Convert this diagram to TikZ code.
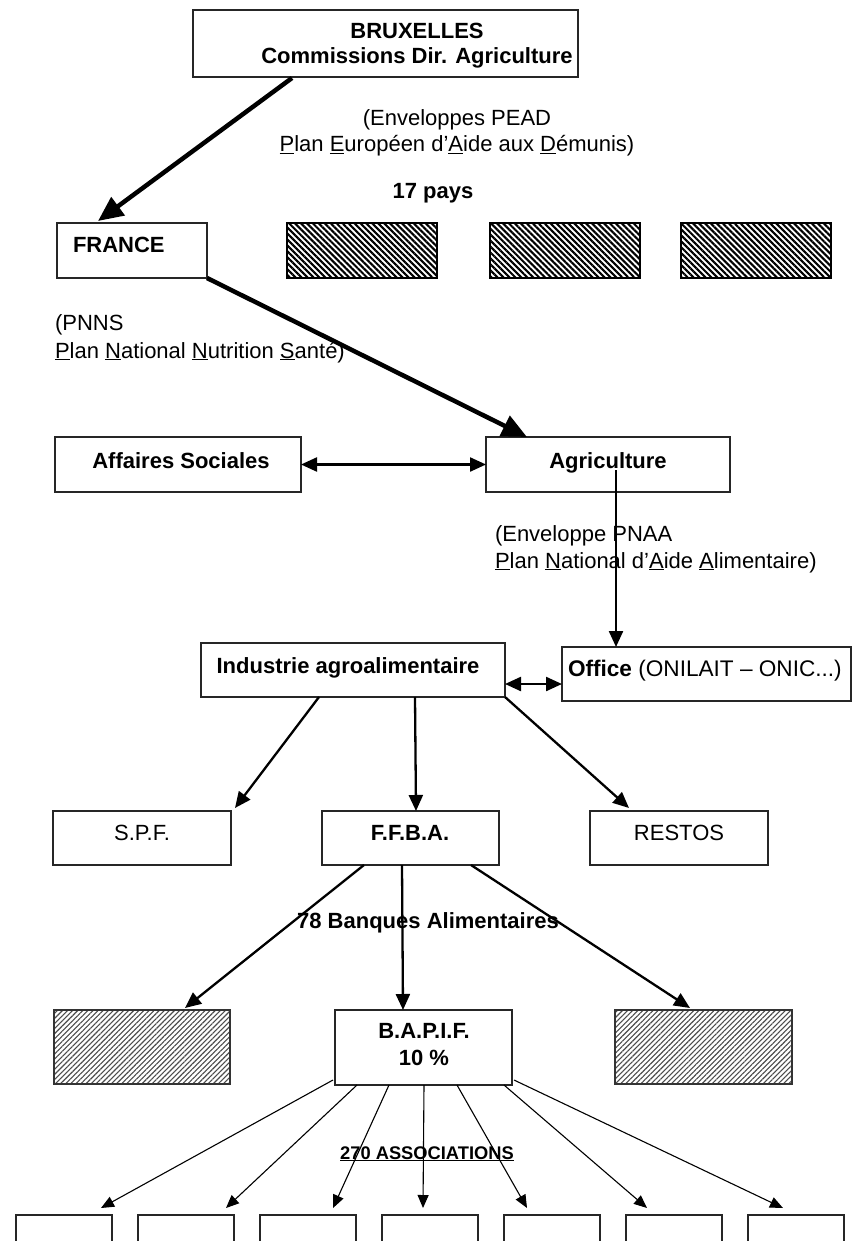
\documentclass[tikz,border=0pt]{standalone}
\usepackage{fontspec}
\setmainfont{Liberation Sans}
\usetikzlibrary{arrows.meta,patterns.meta,calc}
\newcommand\ulx[1]{\underline{#1}}
\begin{document}
\begin{tikzpicture}[x=1pt,y=-1pt,
  every node/.style={inner sep=0pt, outer sep=0pt},
  box/.style={draw=black!85, line width=1.3pt, rectangle, anchor=north west},
  hatchtop/.style={box, draw=black, line width=1.8pt, pattern={Lines[angle=-45,distance=4.2pt,line width=2.1pt]}},
  hatchbot/.style={box, draw=black!80, line width=1.3pt, pattern={Lines[angle=45,distance=3.6pt,line width=1.1pt]}, pattern color=black!70},
  txt/.style={font=\fontsize{22}{26}\selectfont, anchor=base},
  bigarrow/.style={line width=4.5pt, -{Triangle[length=25pt,width=22pt]}},
  midarrow/.style={line width=2.3pt, -{Triangle[length=16pt,width=14pt]}},
  middouble/.style={line width=2.3pt, {Triangle[length=16pt,width=14pt]}-{Triangle[length=16pt,width=14pt]}},
  thinarrow/.style={line width=1.1pt, -{Triangle[length=13pt,width=11pt]}}
]
\useasboundingbox (0,0) rectangle (854,1241);
\fill[white] (0,0) rectangle (854,1241);
\clip (0,0) rectangle (854,1241);

% boxes
\node[box, minimum width=385pt, minimum height=67pt] (brux) at (193,10) {};
\node[box, minimum width=150pt, minimum height=55pt] (france) at (57,223) {};
\node[hatchtop, minimum width=150pt, minimum height=55pt] (hA) at (287,223) {};
\node[hatchtop, minimum width=150pt, minimum height=55pt] (hB) at (490,223) {};
\node[hatchtop, minimum width=150pt, minimum height=55pt] (hC) at (681,223) {};
\node[box, minimum width=246pt, minimum height=55pt] (aff) at (55,437) {};
\node[box, minimum width=244pt, minimum height=55pt] (agri) at (486,437) {};
\node[box, minimum width=304pt, minimum height=54pt] (ind) at (201,643) {};
\node[box, minimum width=289pt, minimum height=54pt] (off) at (562,647) {};
\node[box, minimum width=178pt, minimum height=54pt] (spf) at (53,811) {};
\node[box, minimum width=177pt, minimum height=54pt] (ffba) at (322,811) {};
\node[box, minimum width=178pt, minimum height=54pt] (restos) at (590,811) {};
\node[hatchbot, minimum width=176pt, minimum height=74pt] (hL) at (54,1010) {};
\node[box, minimum width=177pt, minimum height=75pt] (bapif) at (335,1010) {};
\node[hatchbot, minimum width=177pt, minimum height=74pt] (hR) at (615,1010) {};
\node[box, minimum width=96pt, minimum height=60pt] (b1) at (16,1215) {};
\node[box, minimum width=96pt, minimum height=60pt] (b2) at (138,1215) {};
\node[box, minimum width=96pt, minimum height=60pt] (b3) at (260,1215) {};
\node[box, minimum width=96pt, minimum height=60pt] (b4) at (382,1215) {};
\node[box, minimum width=96pt, minimum height=60pt] (b5) at (504,1215) {};
\node[box, minimum width=96pt, minimum height=60pt] (b6) at (626,1215) {};
\node[box, minimum width=96pt, minimum height=60pt] (b7) at (748,1215) {};

% texts
\node[txt] (tbrux1) at (417,39) {\bfseries BRUXELLES};
\node[txt] (tbrux2) at (417,64) {\bfseries Commissions Dir. Agriculture};
\node[txt] (tpead1) at (457,126) {(Enveloppes PEAD};
\node[txt] (tpead2) at (457,152) {\ulx{P}lan \ulx{E}uropéen d’\ulx{A}ide aux \ulx{D}émunis)};
\node[txt] (tpays) at (433,199) {\bfseries 17 pays};
\node[txt, anchor=base west] (tfr) at (73,253) {\bfseries FRANCE};
\node[txt, anchor=base west] (tpnns1) at (55,330) {(PNNS};
\node[txt, anchor=base west] (tpnns2) at (55,358) {\ulx{P}lan \ulx{N}ational \ulx{N}utrition \ulx{S}anté)};
\node[txt] (taff) at (181,468) {\bfseries Affaires Sociales};
\node[txt] (tagri) at (608,468) {\bfseries Agriculture};
\node[txt, anchor=base west] (tpnaa1) at (495,541) {(Enveloppe PNAA};
\node[txt, anchor=base west] (tpnaa2) at (495,568) {\ulx{P}lan \ulx{N}ational d’\ulx{A}ide \ulx{A}limentaire)};
\node[txt] (tind) at (348,673) {\bfseries Industrie agroalimentaire};
\node[txt, font=\fontsize{22.6}{26}\selectfont, anchor=base west] (toff) at (568,676) {\textbf{Office} (ONILAIT – ONIC...)};
\node[txt] (tspf) at (142,840) {S.P.F.};
\node[txt] (tffba) at (410,840) {\bfseries F.F.B.A.};
\node[txt] (trestos) at (679,840) {RESTOS};
\node[txt] (tbanq) at (428,928) {\bfseries 78 Banques Alimentaires};
\node[txt] (tbapif1) at (424,1038) {\bfseries B.A.P.I.F.};
\node[txt] (tbapif2) at (424,1065) {\bfseries 10 \%};
\node[txt, font=\fontsize{18.3}{22}\selectfont\bfseries] (tassoc) at (427,1159) {\underline{270 ASSOCIATIONS}};

% connectors
\draw[bigarrow] ($(brux.south west)+(99,1)$) -- ($(france.north west)+(41,-2)$);
\draw[bigarrow] (france.south east) -- ($(agri.north west)+(41,0)$);
\draw[middouble] (aff.east) -- (agri.west);
\draw[midarrow] ($(agri.north west)+(130,33)$) -- ($(off.north west)+(54,0)$);
\draw[middouble] ($(ind.north east)+(0,41)$) -- ($(off.north west)+(0,37)$);
\draw[midarrow] ($(ind.south west)+(118,0)$) -- ($(spf.north east)+(4,-3)$);
\draw[midarrow] ($(ind.south west)+(214,0)$) -- ($(ffba.north west)+(94,0)$);
\draw[midarrow] (ind.south east) -- ($(restos.north west)+(39,-3)$);
\draw[midarrow] ($(ffba.south west)+(42,0)$) -- ($(hL.north west)+(131,-2)$);
\draw[midarrow] ($(ffba.south west)+(80,0)$) -- ($(bapif.north west)+(68,0)$);
\draw[midarrow] ($(ffba.south west)+(149,0)$) -- ($(hR.north west)+(75,-2)$);
\draw[thinarrow] ($(bapif.south west)+(-2,-5)$) -- ($(b1.north west)+(85,-7)$);
\draw[thinarrow] ($(bapif.south west)+(22,0)$) -- ($(b2.north west)+(88,-7)$);
\draw[thinarrow] ($(bapif.south west)+(54,0)$) -- ($(b3.north west)+(73,-7)$);
\draw[thinarrow] ($(bapif.south west)+(89,0)$) -- ($(b4.north west)+(41,-7)$);
\draw[thinarrow] ($(bapif.south west)+(122,0)$) -- ($(b5.north west)+(23,-7)$);
\draw[thinarrow] ($(bapif.south west)+(169,0)$) -- ($(b6.north west)+(21,-7)$);
\draw[thinarrow] ($(bapif.south east)+(2,-5)$) -- ($(b7.north west)+(35,-7)$);
\end{tikzpicture}
\end{document}
